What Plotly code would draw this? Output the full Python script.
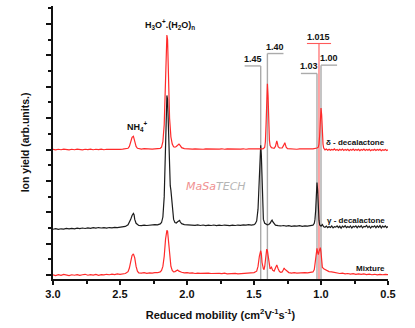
import plotly.graph_objects as go

# Ion mobility spectra: (reduced mobility, ion yield) pairs, arbitrary units
MIXTURE = [
    (3.00, 0.02), (2.98, -0.03), (2.96, 0.03), (2.94, -0.02), (2.92, 0.04), (2.90, 0.00),
    (2.88, -0.03), (2.86, 0.02), (2.84, -0.01), (2.82, 0.03), (2.80, -0.02), (2.78, 0.02),
    (2.76, 0.05), (2.74, -0.01), (2.72, 0.03), (2.70, 0.00), (2.68, 0.04), (2.66, -0.02),
    (2.64, 0.03), (2.62, 0.01), (2.60, 0.05), (2.58, 0.02), (2.56, 0.06), (2.54, 0.03),
    (2.52, 0.07), (2.50, 0.05), (2.48, 0.08), (2.46, 0.10), (2.44, 0.22), (2.43, 0.45),
    (2.42, 0.85), (2.41, 1.25), (2.40, 1.35), (2.39, 1.10), (2.38, 0.55), (2.37, 0.25),
    (2.36, 0.14), (2.34, 0.12), (2.32, 0.15), (2.30, 0.11), (2.28, 0.14), (2.26, 0.12),
    (2.24, 0.16), (2.22, 0.15), (2.20, 0.20), (2.19, 0.30), (2.18, 0.55), (2.17, 1.20),
    (2.16, 2.30), (2.15, 2.85), (2.145, 2.80), (2.14, 2.35), (2.13, 1.20), (2.12, 0.55),
    (2.11, 0.30), (2.10, 0.20), (2.09, 0.22), (2.08, 0.30), (2.07, 0.32), (2.06, 0.25),
    (2.05, 0.20), (2.04, 0.18), (2.02, 0.14), (2.00, 0.16), (1.98, 0.12), (1.96, 0.14),
    (1.94, 0.10), (1.92, 0.13), (1.90, 0.11), (1.88, 0.12), (1.86, 0.09), (1.84, 0.12),
    (1.82, 0.10), (1.80, 0.11), (1.78, 0.08), (1.76, 0.11), (1.74, 0.09), (1.72, 0.12),
    (1.70, 0.08), (1.68, 0.10), (1.66, 0.09), (1.64, 0.11), (1.62, 0.08), (1.60, 0.10),
    (1.58, 0.09), (1.56, 0.11), (1.54, 0.12), (1.52, 0.14), (1.50, 0.16), (1.48, 0.25),
    (1.47, 0.55), (1.46, 1.20), (1.45, 1.55), (1.445, 1.35), (1.44, 0.80), (1.43, 0.40),
    (1.425, 0.35), (1.42, 0.55), (1.41, 1.30), (1.405, 1.65), (1.40, 1.55), (1.39, 0.80),
    (1.38, 0.40), (1.375, 0.45), (1.37, 0.50), (1.36, 0.30), (1.35, 0.25), (1.34, 0.45),
    (1.33, 0.65), (1.32, 0.40), (1.31, 0.22), (1.30, 0.18), (1.29, 0.20), (1.28, 0.35),
    (1.275, 0.45), (1.27, 0.38), (1.26, 0.32), (1.255, 0.30), (1.25, 0.22), (1.24, 0.16),
    (1.22, 0.13), (1.20, 0.15), (1.18, 0.12), (1.16, 0.14), (1.14, 0.12), (1.12, 0.15),
    (1.10, 0.14), (1.08, 0.16), (1.06, 0.20), (1.05, 0.35), (1.04, 0.95), (1.035, 1.55),
    (1.03, 1.70), (1.025, 1.45), (1.02, 1.30), (1.015, 1.50), (1.01, 1.70), (1.005, 1.75),
    (1.00, 1.45), (0.995, 0.90), (0.99, 0.50), (0.98, 0.40), (0.97, 0.35), (0.96, 0.30),
    (0.95, 0.27), (0.94, 0.22), (0.92, 0.20), (0.90, 0.15), (0.88, 0.14), (0.86, 0.10),
    (0.84, 0.12), (0.82, 0.08), (0.80, 0.10), (0.78, 0.06), (0.76, 0.09), (0.74, 0.05),
    (0.72, 0.08), (0.70, 0.04), (0.68, 0.07), (0.66, 0.03), (0.64, 0.06), (0.62, 0.02),
    (0.60, 0.05), (0.58, 0.01), (0.56, 0.04), (0.54, 0.02), (0.52, 0.05), (0.50, 0.03),
]

GAMMA = [
    (3.00, -0.08), (2.98, -0.04), (2.96, -0.09), (2.94, -0.05), (2.92, -0.07), (2.90, -0.03),
    (2.88, -0.06), (2.86, -0.02), (2.84, -0.05), (2.82, -0.01), (2.80, -0.04), (2.78, 0.00),
    (2.76, -0.03), (2.74, 0.01), (2.72, -0.02), (2.70, 0.02), (2.68, -0.01), (2.66, 0.03),
    (2.64, 0.00), (2.62, 0.02), (2.60, -0.01), (2.58, 0.03), (2.56, 0.01), (2.54, 0.04),
    (2.52, 0.02), (2.50, 0.05), (2.48, 0.06), (2.46, 0.10), (2.44, 0.20), (2.43, 0.35),
    (2.42, 0.55), (2.41, 0.80), (2.40, 0.93), (2.395, 0.85), (2.39, 0.55), (2.38, 0.30),
    (2.37, 0.20), (2.36, 0.16), (2.34, 0.15), (2.32, 0.18), (2.30, 0.16), (2.28, 0.19),
    (2.26, 0.18), (2.24, 0.21), (2.22, 0.20), (2.20, 0.26), (2.19, 0.35), (2.18, 0.70),
    (2.17, 2.00), (2.16, 5.20), (2.155, 7.40), (2.15, 8.45), (2.145, 8.20), (2.14, 6.60),
    (2.135, 4.50), (2.13, 3.20), (2.125, 2.70), (2.12, 2.40), (2.115, 1.80), (2.11, 1.10),
    (2.10, 0.55), (2.09, 0.35), (2.08, 0.32), (2.07, 0.40), (2.06, 0.50), (2.055, 0.48),
    (2.05, 0.38), (2.04, 0.28), (2.02, 0.22), (2.00, 0.20), (1.98, 0.18), (1.96, 0.20),
    (1.94, 0.17), (1.92, 0.20), (1.90, 0.16), (1.88, 0.19), (1.86, 0.15), (1.84, 0.18),
    (1.82, 0.16), (1.80, 0.19), (1.78, 0.15), (1.76, 0.18), (1.74, 0.16), (1.72, 0.19),
    (1.70, 0.17), (1.68, 0.15), (1.66, 0.18), (1.64, 0.16), (1.62, 0.19), (1.60, 0.17),
    (1.58, 0.20), (1.56, 0.18), (1.54, 0.21), (1.52, 0.19), (1.50, 0.22), (1.49, 0.28),
    (1.48, 0.45), (1.475, 0.70), (1.47, 1.20), (1.465, 2.20), (1.46, 3.50), (1.455, 4.80),
    (1.45, 5.28), (1.445, 4.60), (1.44, 2.80), (1.435, 1.20), (1.43, 0.55), (1.42, 0.30),
    (1.41, 0.22), (1.40, 0.20), (1.39, 0.22), (1.38, 0.30), (1.37, 0.45), (1.365, 0.50),
    (1.36, 0.40), (1.35, 0.25), (1.34, 0.18), (1.32, 0.15), (1.30, 0.13), (1.28, 0.16),
    (1.26, 0.12), (1.24, 0.15), (1.22, 0.11), (1.20, 0.14), (1.18, 0.12), (1.16, 0.15),
    (1.14, 0.11), (1.12, 0.14), (1.10, 0.12), (1.08, 0.15), (1.06, 0.18), (1.05, 0.30),
    (1.045, 0.55), (1.04, 1.10), (1.035, 2.00), (1.03, 2.90), (1.025, 2.40), (1.02, 1.20),
    (1.015, 0.50), (1.01, 0.20), (1.00, 0.12), (0.99, 0.22), (0.985, 0.15), (0.98, 0.08),
    (0.97, 0.05), (0.96, 0.12), (0.95, 0.02), (0.94, 0.10), (0.93, 0.04), (0.92, 0.13),
    (0.91, 0.01), (0.90, 0.09), (0.89, 0.06), (0.88, 0.14), (0.87, 0.03), (0.86, 0.11),
    (0.85, -0.01), (0.84, 0.12), (0.83, 0.05), (0.82, 0.15), (0.81, 0.02), (0.80, 0.10),
    (0.79, 0.04), (0.78, 0.13), (0.77, 0.00), (0.76, 0.11), (0.75, 0.06), (0.74, 0.14),
    (0.73, 0.02), (0.72, 0.12), (0.71, 0.05), (0.70, 0.15), (0.69, 0.01), (0.68, 0.10),
    (0.67, 0.07), (0.66, 0.16), (0.65, 0.03), (0.64, 0.12), (0.63, 0.00), (0.62, 0.11),
    (0.61, 0.06), (0.60, 0.14), (0.59, 0.02), (0.58, 0.13), (0.57, 0.04), (0.56, 0.15),
    (0.55, 0.01), (0.54, 0.12), (0.53, 0.05), (0.52, 0.14), (0.51, 0.03), (0.50, 0.10),
]

DELTA = [
    (3.00, 0.01), (2.98, -0.02), (2.96, 0.02), (2.94, -0.01), (2.92, 0.03), (2.90, 0.00),
    (2.88, -0.02), (2.86, 0.02), (2.84, -0.01), (2.82, 0.03), (2.80, 0.01), (2.78, -0.02),
    (2.76, 0.02), (2.74, 0.00), (2.72, 0.03), (2.70, -0.01), (2.68, 0.02), (2.66, 0.00),
    (2.64, 0.03), (2.62, -0.01), (2.60, 0.02), (2.58, 0.01), (2.56, 0.03), (2.54, 0.00),
    (2.52, 0.02), (2.50, 0.01), (2.48, 0.03), (2.46, 0.04), (2.44, 0.08), (2.43, 0.20),
    (2.42, 0.50), (2.41, 0.78), (2.40, 0.85), (2.39, 0.55), (2.38, 0.20), (2.37, 0.08),
    (2.36, 0.05), (2.34, 0.03), (2.32, 0.06), (2.30, 0.04), (2.28, 0.06), (2.26, 0.03),
    (2.24, 0.05), (2.22, 0.06), (2.20, 0.08), (2.19, 0.15), (2.18, 0.50), (2.17, 1.60),
    (2.16, 4.50), (2.155, 6.40), (2.15, 7.30), (2.145, 7.00), (2.14, 5.40), (2.135, 3.50),
    (2.13, 2.00), (2.12, 0.80), (2.11, 0.35), (2.10, 0.18), (2.09, 0.15), (2.08, 0.20),
    (2.07, 0.30), (2.06, 0.35), (2.05, 0.25), (2.04, 0.12), (2.02, 0.06), (2.00, 0.04),
    (1.98, 0.06), (1.96, 0.03), (1.94, 0.05), (1.92, 0.03), (1.90, 0.05), (1.88, 0.02),
    (1.86, 0.04), (1.84, 0.03), (1.82, 0.05), (1.80, 0.02), (1.78, 0.04), (1.76, 0.03),
    (1.74, 0.05), (1.72, 0.02), (1.70, 0.04), (1.68, 0.03), (1.66, 0.05), (1.64, 0.02),
    (1.62, 0.04), (1.60, 0.03), (1.58, 0.05), (1.56, 0.02), (1.54, 0.04), (1.52, 0.03),
    (1.50, 0.05), (1.48, 0.03), (1.46, 0.04), (1.44, 0.05), (1.43, 0.06), (1.42, 0.15),
    (1.415, 0.50), (1.41, 1.60), (1.405, 3.50), (1.40, 4.20), (1.395, 3.40), (1.39, 1.60),
    (1.385, 0.60), (1.38, 0.25), (1.37, 0.12), (1.36, 0.10), (1.35, 0.08), (1.34, 0.20),
    (1.335, 0.45), (1.33, 0.55), (1.325, 0.40), (1.32, 0.18), (1.31, 0.10), (1.30, 0.08),
    (1.29, 0.10), (1.28, 0.25), (1.275, 0.40), (1.27, 0.43), (1.265, 0.30), (1.26, 0.15),
    (1.25, 0.06), (1.24, 0.05), (1.22, 0.03), (1.20, 0.05), (1.18, 0.02), (1.16, 0.04),
    (1.14, 0.03), (1.12, 0.05), (1.10, 0.02), (1.08, 0.04), (1.06, 0.05), (1.04, 0.07),
    (1.035, 0.12), (1.03, 0.10), (1.02, 0.15), (1.015, 0.35), (1.01, 0.90), (1.005, 1.80),
    (1.00, 2.65), (0.995, 2.20), (0.99, 1.00), (0.985, 0.35), (0.98, 0.10), (0.975, 0.02),
    (0.97, -0.02), (0.96, 0.03), (0.95, -0.04), (0.94, 0.02), (0.93, -0.05), (0.92, 0.01),
    (0.91, -0.03), (0.90, 0.04), (0.89, -0.05), (0.88, 0.00), (0.87, -0.06), (0.86, 0.02),
    (0.85, -0.04), (0.84, 0.03), (0.83, -0.06), (0.82, 0.01), (0.81, -0.05), (0.80, 0.02),
    (0.79, -0.07), (0.78, 0.00), (0.77, -0.04), (0.76, 0.03), (0.75, -0.06), (0.74, 0.01),
    (0.73, -0.05), (0.72, 0.02), (0.71, -0.07), (0.70, 0.00), (0.69, -0.04), (0.68, 0.03),
    (0.67, -0.06), (0.66, 0.01), (0.65, -0.05), (0.64, 0.02), (0.63, -0.07), (0.62, -0.01),
    (0.61, -0.05), (0.60, 0.02), (0.59, -0.06), (0.58, 0.00), (0.57, -0.05), (0.56, 0.02),
    (0.55, -0.07), (0.54, -0.01), (0.53, -0.05), (0.52, 0.01), (0.51, -0.06), (0.50, -0.02),
]

SERIES_NAMES = ["Mixture", "γ - decalactone", "δ - decalactone"]
X_TICKS = [3.0, 2.5, 2.0, 1.5, 1.0, 0.5]

# Marked peak positions (grey brackets) and the central one (red)
MARKED_PEAKS = [1.45, 1.40, 1.03, 1.00]
CENTRE_PEAK = 1.015

# ---- layout constants ----
OFFSETS = [0.0, 3.0, 8.0]              # vertical stacking of the spectra
COLORS = ["#ff2a2a", "#1c1c1c", "#ff2a2a"]
BRACKET_TOPS = [13.33, 14.12, 12.85, 13.38]
BRACKET_DIRS = [1, -1, 1, -1]          # arm towards higher (+1) or lower (-1) mobility
ARM = 0.12
FONT = "Liberation Sans, Arial, sans-serif"
GREY = "#ababab"

fig = go.Figure()

shapes = []
annotations = []
for pk, top, d in zip(MARKED_PEAKS, BRACKET_TOPS, BRACKET_DIRS):
    shapes.append(dict(type="line", xref="x", yref="y", x0=pk, x1=pk, y0=-0.25, y1=top,
                       line=dict(color=GREY, width=1.4), layer="below"))
    shapes.append(dict(type="line", xref="x", yref="y", x0=pk, x1=pk + d * ARM, y0=top, y1=top,
                       line=dict(color=GREY, width=1.4), layer="below"))
    annotations.append(dict(x=pk + d * ARM / 2, y=top, xref="x", yref="y", text=f"<b>{pk:.2f}</b>",
                            showarrow=False, yanchor="bottom", xanchor="center",
                            font=dict(family=FONT, size=9, color="#111")))

c_top = 14.76
shapes.append(dict(type="line", xref="x", yref="y", x0=CENTRE_PEAK, x1=CENTRE_PEAK, y0=-0.25, y1=c_top,
                   line=dict(color="#ff5a5a", width=1.1), layer="below"))
shapes.append(dict(type="line", xref="x", yref="y", x0=CENTRE_PEAK + 0.09, x1=CENTRE_PEAK - 0.09,
                   y0=c_top, y1=c_top, line=dict(color="#ff5a5a", width=1.1), layer="below"))
annotations.append(dict(x=CENTRE_PEAK, y=c_top, xref="x", yref="y", text=f"<b>{CENTRE_PEAK:.3f}</b>",
                        showarrow=False, yanchor="bottom", xanchor="center",
                        font=dict(family=FONT, size=9, color="#111")))

for spec, off, col in zip([MIXTURE, GAMMA, DELTA], OFFSETS, COLORS):
    xs = [p[0] for p in spec]
    ys = [p[1] + off for p in spec]
    fig.add_trace(go.Scatter(x=xs, y=ys, mode="lines", line=dict(color=col, width=1.2),
                             showlegend=False, hoverinfo="skip"))

# spectrum names on the right
for name, ypos in zip(SERIES_NAMES, [0.4, 3.5, 8.45]):
    annotations.append(dict(x=0.51, y=ypos, xref="x", yref="y", text=f"<b>{name}</b>",
                            showarrow=False, xanchor="right", yanchor="middle",
                            font=dict(family=FONT, size=8, color="#111")))

# ion labels
annotations.append(dict(x=2.13, y=16.0, xref="x", yref="y",
                        text="<b>H<sub>3</sub>O<sup>+</sup>.(H<sub>2</sub>O)<sub>n</sub></b>",
                        showarrow=False, font=dict(family=FONT, size=9, color="#111")))
annotations.append(dict(x=2.37, y=9.45, xref="x", yref="y",
                        text="<b>NH<sub>4</sub><sup>+</sup></b>",
                        showarrow=False, font=dict(family=FONT, size=9, color="#111")))

# logo
annotations.append(dict(x=0.487, y=0.34, xref="paper", yref="paper",
                        text="<i><span style='color:#f09090'>MaSa</span>"
                             "<span style='color:#b5b5b5'>TECH</span></i>",
                        showarrow=False, font=dict(family="DejaVu Sans", size=11)))

fig.update_layout(
    width=415, height=328,
    margin=dict(l=53, r=27, t=6, b=49),
    paper_bgcolor="white", plot_bgcolor="white",
    shapes=shapes, annotations=annotations,
    font=dict(family=FONT, color="#111"),
    xaxis=dict(range=[3.0, 0.5], tickvals=X_TICKS, ticktext=[f"<b>{v:.1f}</b>" for v in X_TICKS],
               showgrid=False, zeroline=False, showline=True, linecolor="#111", linewidth=2,
               ticks="outside", ticklen=4, tickwidth=1.5, tickcolor="#111",
               minor=dict(dtick=0.25, tick0=0.5, ticks="outside", ticklen=2.5, tickwidth=1.5, tickcolor="#111"),
               tickfont=dict(family=FONT, size=11, color="#111"),
               title=dict(text="<b>Reduced mobility (cm<sup>2</sup>V<sup>-1</sup>s<sup>-1</sup>)</b>",
                          font=dict(family=FONT, size=11, color="#111"), standoff=12)),
    yaxis=dict(range=[-0.25, 17.15], tick0=0, dtick=2, showticklabels=False,
               showgrid=False, zeroline=False, showline=True, linecolor="#111", linewidth=2,
               ticks="outside", ticklen=5, tickwidth=1.5, tickcolor="#111",
               minor=dict(dtick=1, tick0=0, ticks="outside", ticklen=3, tickwidth=1.5, tickcolor="#111"),
               title=dict(text="<b>Ion yield (arb.units.)</b>",
                          font=dict(family=FONT, size=10.5, color="#111"), standoff=14)),
)

fig.write_html("out.html")
